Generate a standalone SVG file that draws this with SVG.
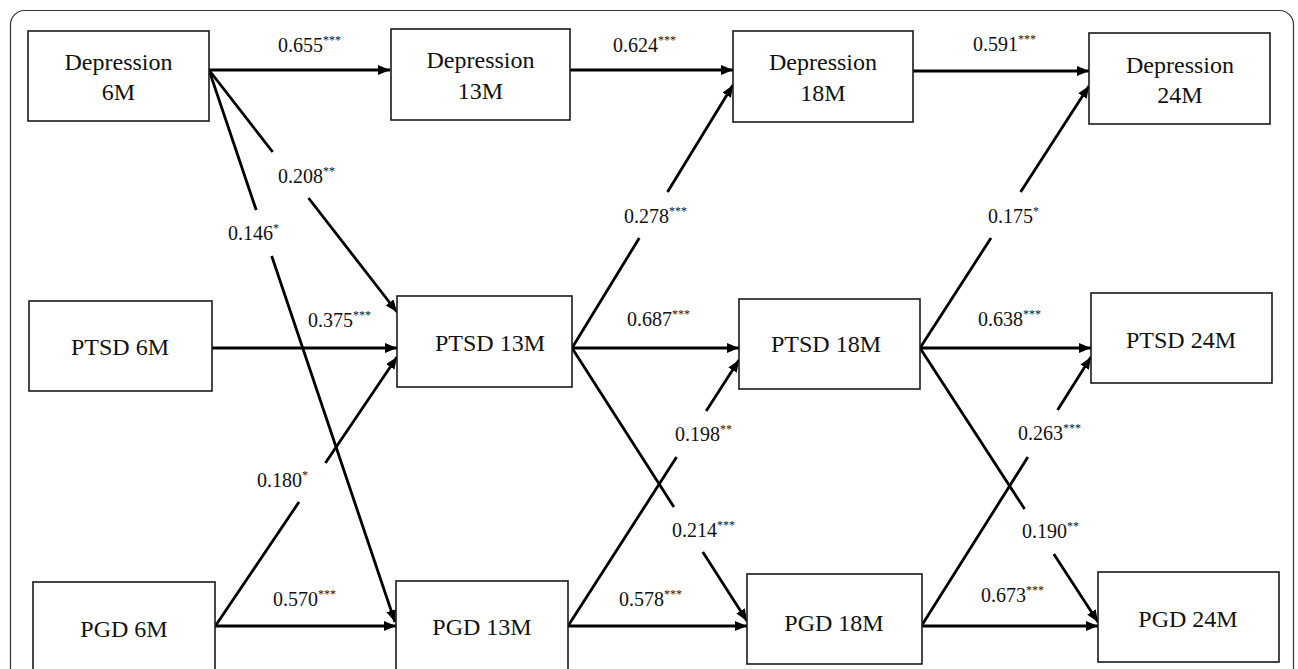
<svg xmlns="http://www.w3.org/2000/svg" width="1298" height="669" viewBox="0 0 1298 669">
<style>
.box{fill:#fff;stroke:#1a1a1a;stroke-width:1.6}
.nt{font-family:"Liberation Serif","Times New Roman",serif;font-size:24px;fill:#111;text-anchor:middle}
.lb{font-family:"Liberation Serif","Times New Roman",serif;font-size:20px;fill:#111}
.sup{font-size:12px}
.ln{fill:none;stroke:#000;stroke-width:2.8;marker-end:url(#ah)}
</style>
<defs>
<marker id="ah" markerUnits="userSpaceOnUse" markerWidth="13" markerHeight="11" refX="12" refY="5" orient="auto">
<path d="M0,0 L12,5 L0,10 z" fill="#000"/>
</marker>
</defs>
<rect x="0" y="0" width="1298" height="669" fill="#fff"/>
<rect x="10.5" y="10.5" width="1283" height="720" rx="14" fill="none" stroke="#333" stroke-width="1.2"/>

<g id="connectors">
<path class="ln" d="M209,70 L390,70"/>
<path class="ln" d="M570,70 L733,70"/>
<path class="ln" d="M913,71 L1089,71"/>
<path class="ln" d="M209,70 L272.7,152 M308.5,198 L397,312"/>
<path class="ln" d="M209,70 L256.2,210 M271.7,256 L395,622"/>
<path class="ln" d="M212,348 L397,348"/>
<path class="ln" d="M216,625 L299,502 M325.4,463 L397,357"/>
<path class="ln" d="M215,626 L396,626"/>
<path class="ln" d="M572,348 L639.3,238 M667.5,192 L733,85"/>
<path class="ln" d="M572,348 L739,348"/>
<path class="ln" d="M572,348 L673.9,507 M702.8,552 L747,621"/>
<path class="ln" d="M568,626 L676.6,457 M706.2,411 L739,360"/>
<path class="ln" d="M568,626 L747,626"/>
<path class="ln" d="M920,348 L991,238 M1020.6,192 L1089,86"/>
<path class="ln" d="M920,348 L1091,348"/>
<path class="ln" d="M920,348 L1024.6,509 M1053.8,554 L1098,622"/>
<path class="ln" d="M922,625 L1027.9,457 M1057.6,410 L1091,357"/>
<path class="ln" d="M922,626 L1098,626"/>
</g>

<g id="labels">
<text class="lb" x="278" y="52">0.655<tspan class="sup" dy="-8">***</tspan></text>
<text class="lb" x="613" y="52">0.624<tspan class="sup" dy="-8">***</tspan></text>
<text class="lb" x="973" y="51">0.591<tspan class="sup" dy="-8">***</tspan></text>
<text class="lb" x="278" y="183">0.208<tspan class="sup" dy="-8">**</tspan></text>
<text class="lb" x="228" y="240">0.146<tspan class="sup" dy="-8">*</tspan></text>
<text class="lb" x="308" y="327">0.375<tspan class="sup" dy="-8">***</tspan></text>
<text class="lb" x="257" y="487">0.180<tspan class="sup" dy="-8">*</tspan></text>
<text class="lb" x="273" y="606">0.570<tspan class="sup" dy="-8">***</tspan></text>
<text class="lb" x="624" y="223">0.278<tspan class="sup" dy="-8">***</tspan></text>
<text class="lb" x="627" y="326">0.687<tspan class="sup" dy="-8">***</tspan></text>
<text class="lb" x="675" y="441">0.198<tspan class="sup" dy="-8">**</tspan></text>
<text class="lb" x="672" y="537">0.214<tspan class="sup" dy="-8">***</tspan></text>
<text class="lb" x="619" y="606">0.578<tspan class="sup" dy="-8">***</tspan></text>
<text class="lb" x="988" y="223">0.175<tspan class="sup" dy="-8">*</tspan></text>
<text class="lb" x="978" y="326">0.638<tspan class="sup" dy="-8">***</tspan></text>
<text class="lb" x="1018" y="440">0.263<tspan class="sup" dy="-8">***</tspan></text>
<text class="lb" x="1022" y="538">0.190<tspan class="sup" dy="-8">**</tspan></text>
<text class="lb" x="981" y="602">0.673<tspan class="sup" dy="-8">***</tspan></text>
</g>

<g id="dep6"><rect class="box" x="28" y="31" width="181" height="90"/><text class="nt" x="118.5" y="70">Depression</text><text class="nt" x="118.5" y="100">6M</text></g>
<g id="dep13"><rect class="box" x="391" y="29" width="179" height="91"/><text class="nt" x="480.5" y="68">Depression</text><text class="nt" x="480.5" y="99">13M</text></g>
<g id="dep18"><rect class="box" x="733" y="31" width="180" height="91"/><text class="nt" x="823" y="70">Depression</text><text class="nt" x="823" y="101">18M</text></g>
<g id="dep24"><rect class="box" x="1089" y="33" width="181" height="91"/><text class="nt" x="1180" y="73">Depression</text><text class="nt" x="1180" y="103">24M</text></g>
<g id="ptsd6"><rect class="box" x="29" y="301" width="183" height="90"/><text class="nt" x="120" y="355">PTSD 6M</text></g>
<g id="ptsd13"><rect class="box" x="397" y="296" width="175" height="91"/><text class="nt" x="490" y="351">PTSD 13M</text></g>
<g id="ptsd18"><rect class="box" x="739" y="299" width="181" height="90"/><text class="nt" x="826" y="352">PTSD 18M</text></g>
<g id="ptsd24"><rect class="box" x="1091" y="293" width="181" height="90"/><text class="nt" x="1181" y="348">PTSD 24M</text></g>
<g id="pgd6"><rect class="box" x="33" y="582" width="182" height="100"/><text class="nt" x="124" y="637">PGD 6M</text></g>
<g id="pgd13"><rect class="box" x="396" y="581" width="172" height="100"/><text class="nt" x="482" y="635">PGD 13M</text></g>
<g id="pgd18"><rect class="box" x="747" y="574" width="175" height="90"/><text class="nt" x="834" y="631">PGD 18M</text></g>
<g id="pgd24"><rect class="box" x="1098" y="572" width="181" height="90"/><text class="nt" x="1188" y="627">PGD 24M</text></g>
</svg>
